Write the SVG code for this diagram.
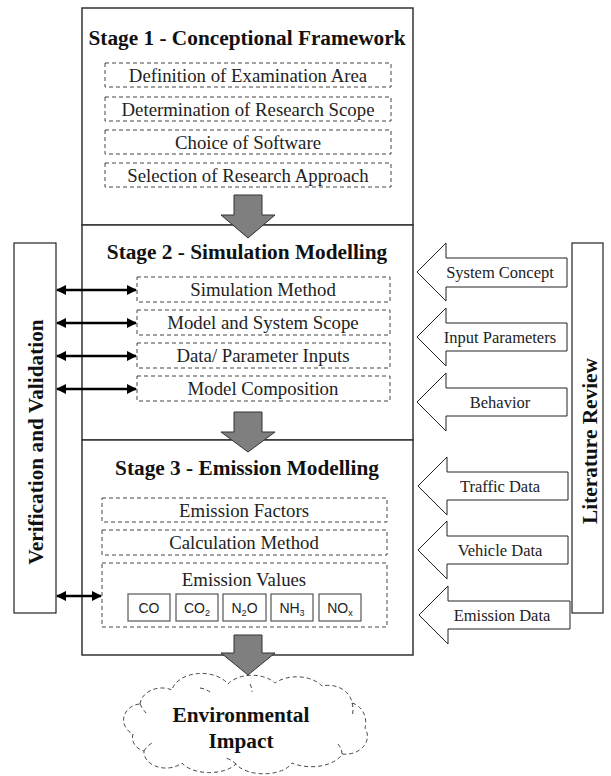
<svg xmlns="http://www.w3.org/2000/svg" width="611" height="776" viewBox="0 0 611 776">
<style>
.frame{fill:#fff;stroke:#333;stroke-width:1.5}
.side{fill:#fff;stroke:#222;stroke-width:1.2}
.dash{fill:#fff;stroke:#444;stroke-width:1;stroke-dasharray:4,3}
.curl{fill:none;stroke:#444;stroke-width:1;stroke-dasharray:4,3}
.title{font-family:"Liberation Serif","Times New Roman",serif;font-weight:bold;font-size:21.3px;fill:#111;text-anchor:middle}
.item{font-family:"Liberation Serif","Times New Roman",serif;font-size:18.8px;fill:#222;text-anchor:middle}
.lbl{font-family:"Liberation Serif","Times New Roman",serif;font-size:16.5px;fill:#222;text-anchor:middle}
.gas{fill:#fff;stroke:#555;stroke-width:1.2}
.gast{font-family:"Liberation Sans",Arial,sans-serif;font-size:14px;fill:#222;text-anchor:middle}
.down{fill:#7f7f7f;stroke:#333;stroke-width:1}
.blk{fill:#fff;stroke:#222;stroke-width:1}
.dbl{stroke:#000;stroke-width:2.5;fill:none;marker-start:url(#ah);marker-end:url(#ah)}
</style>
<defs>
<marker id="ah" viewBox="0 0 10 10" refX="9" refY="5" markerWidth="11" markerHeight="10" markerUnits="userSpaceOnUse" orient="auto-start-reverse">
<path d="M0,0 L10,5 L0,10 Z" fill="#000"/>
</marker>
</defs>

<g id="vv">
<rect class="side" x="14" y="243" width="42" height="370"/>
<text class="title" transform="translate(43,442) rotate(-90)">Verification and Validation</text>
</g>

<g id="lit">
<rect class="side" x="572" y="243" width="31" height="370"/>
<text class="title" transform="translate(597,441) rotate(-90)">Literature Review</text>
</g>

<g id="stage1">
<rect class="frame" x="82" y="8" width="331" height="217"/>
<text class="title" x="247" y="45">Stage 1 - Conceptional Framework</text>
<rect class="dash" x="105" y="63" width="286" height="24"/>
<text class="item" x="248" y="82">Definition of Examination Area</text>
<rect class="dash" x="105" y="97" width="286" height="24"/>
<text class="item" x="248" y="116">Determination of Research Scope</text>
<rect class="dash" x="105" y="130" width="286" height="24"/>
<text class="item" x="248" y="149">Choice of Software</text>
<rect class="dash" x="105" y="163" width="286" height="24"/>
<text class="item" x="248" y="182">Selection of Research Approach</text>
</g>

<g id="stage2">
<rect class="frame" x="82" y="225" width="331" height="215"/>
<text class="title" x="247" y="259">Stage 2 - Simulation Modelling</text>
<rect class="dash" x="137" y="277" width="253" height="25"/>
<text class="item" x="263" y="296">Simulation Method</text>
<rect class="dash" x="137" y="310" width="253" height="25"/>
<text class="item" x="263" y="329">Model and System Scope</text>
<rect class="dash" x="137" y="343" width="253" height="25"/>
<text class="item" x="263" y="362">Data/ Parameter Inputs</text>
<rect class="dash" x="137" y="376" width="253" height="25"/>
<text class="item" x="263" y="395">Model Composition</text>
</g>

<g id="stage3">
<rect class="frame" x="82" y="440" width="331" height="215"/>
<text class="title" x="247" y="475">Stage 3 - Emission Modelling</text>
<rect class="dash" x="102" y="498" width="285" height="24"/>
<text class="item" x="244" y="517">Emission Factors</text>
<rect class="dash" x="102" y="530" width="285" height="25"/>
<text class="item" x="244" y="549">Calculation Method</text>
<rect class="dash" x="102" y="563" width="285" height="64"/>
<text class="item" x="244" y="586">Emission Values</text>
<rect class="gas" x="128" y="594" width="42" height="27"/>
<text class="gast" x="149" y="613">CO</text>
<rect class="gas" x="176" y="594" width="42" height="27"/>
<text class="gast" x="197" y="613">CO<tspan font-size="9" dy="3">2</tspan></text>
<rect class="gas" x="223" y="594" width="43" height="27"/>
<text class="gast" x="244.5" y="613">N<tspan font-size="9" dy="3">2</tspan><tspan dy="-3">O</tspan></text>
<rect class="gas" x="271" y="594" width="42" height="27"/>
<text class="gast" x="292" y="613">NH<tspan font-size="9" dy="3">3</tspan></text>
<rect class="gas" x="319" y="594" width="42" height="27"/>
<text class="gast" x="340" y="613">NO<tspan font-size="9" dy="3">x</tspan></text>
</g>

<g id="impact">
<path class="dash" d="M140,704 A22,18 0 0 1 172,690 A30,20 0 0 1 228,684 A28,18 0 0 1 275,683 A30,20 0 0 1 322,686 A24,20 0 0 1 352,703 A18,20 0 0 1 365,728 A22,18 0 0 1 342,754 A32,18 0 0 1 292,763 A30,16 0 0 1 236,764 A30,16 0 0 1 182,763 A22,16 0 0 1 144,751 A16,14 0 0 1 133,734 A18,16 0 0 1 140,704 Z"/>
<path class="curl" d="M140,704 Q143,710 147,714"/>
<path class="curl" d="M200,688 Q207,689 211,693"/>
<path class="curl" d="M250,684 Q252,688 252,692"/>
<path class="curl" d="M352,703 Q354,710 352,716"/>
<path class="curl" d="M342,754 Q342,748 337,743"/>
<path class="curl" d="M236,764 Q232,760 226,758"/>
<path class="curl" d="M144,751 Q147,746 152,743"/>
<text class="title" font-size="22.8" x="241" y="722">Environmental</text>
<text class="title" font-size="22.8" x="241" y="748">Impact</text>
</g>

<g id="connectors">
<path class="down" d="M234,195 L262,195 L262,215 L275,215 L248,238 L221,215 L234,215 Z"/>
<path class="down" d="M234,412 L262,412 L262,432 L275,432 L248,452 L221,432 L234,432 Z"/>
<path class="down" d="M234,635 L262,635 L262,653 L275,653 L248,675 L221,653 L234,653 Z"/>

<line class="dbl" x1="57" y1="290" x2="136" y2="290"/>
<line class="dbl" x1="57" y1="323" x2="136" y2="323"/>
<line class="dbl" x1="57" y1="356" x2="136" y2="356"/>
<line class="dbl" x1="57" y1="389" x2="136" y2="389"/>
<line class="dbl" x1="57" y1="596" x2="101" y2="596"/>

<path class="blk" d="M417,272 L446,243 L446,258 L567,258 L567,287 L446,287 L446,301 Z"/>
<text class="lbl" x="500" y="278">System Concept</text>
<path class="blk" d="M417,337 L446,308 L446,323 L567,323 L567,351 L446,351 L446,366 Z"/>
<text class="lbl" x="500" y="343">Input Parameters</text>
<path class="blk" d="M417,402 L446,373 L446,388 L567,388 L567,416 L446,416 L446,431 Z"/>
<text class="lbl" x="500" y="408">Behavior</text>
<path class="blk" d="M418,486 L447,457 L447,472 L568,472 L568,500 L447,500 L447,515 Z"/>
<text class="lbl" x="500" y="492">Traffic Data</text>
<path class="blk" d="M418,550 L447,521 L447,536 L568,536 L568,564 L447,564 L447,579 Z"/>
<text class="lbl" x="500" y="556">Vehicle Data</text>
<path class="blk" d="M419,615 L448,586 L448,601 L570,601 L570,629 L448,629 L448,644 Z"/>
<text class="lbl" x="502" y="621">Emission Data</text>
</g>
</svg>
